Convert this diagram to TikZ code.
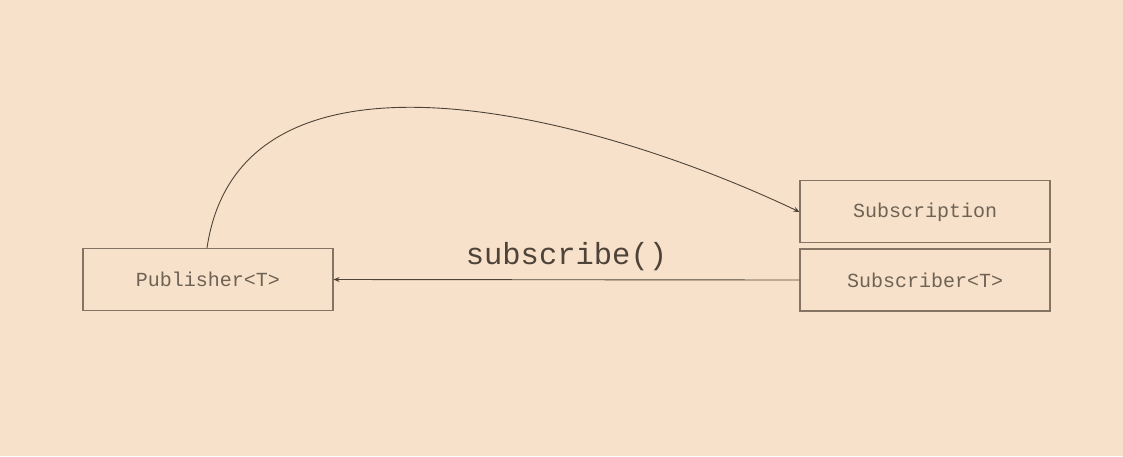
\documentclass[tikz,border=0pt]{standalone}
\usepackage{fontspec}
\setmonofont{Liberation Mono}
\usepackage{tikz}
\usetikzlibrary{arrows.meta,positioning}
\definecolor{bgpeach}{HTML}{F8E1CA}
\definecolor{boxline}{HTML}{857463}
\definecolor{wire}{HTML}{4E4338}
\definecolor{txt}{HTML}{6E6255}

\begin{document}
\begin{tikzpicture}[x=1pt,y=-1pt,>={Stealth[length=6pt,width=5pt]},
		node distance=5pt,thick]
		\tikzstyle{classbox}=[draw=boxline,line width=1.1pt,minimum width=250pt,minimum height=62pt,
		inner sep=0pt,text=txt,font=\fontsize{20}{22}\selectfont\ttfamily]
		
		\fill[bgpeach] (0,0) rectangle (1123,456);
		\useasboundingbox (0,0) rectangle (1123,456);
		
		\node[classbox] (pub)  at (208,279.5) {Publisher<T>};
		\node[classbox] (subr) at (925,280)   {Subscriber<T>};
		\node[classbox] (subn) [above=5pt of subr] {Subscription};
		
		\draw[->,wire,line width=0.9pt] (subr.west) -- node[above=5pt,text=wire,
			font=\fontsize{30.5}{32}\selectfont\ttfamily] {subscribe()} (pub.east);
		\draw[->,wire,line width=0.9pt] (pub.north -| 207,0) .. controls (240,25) and (585,110) .. (subn.west);
		\end{tikzpicture}
\end{document}
